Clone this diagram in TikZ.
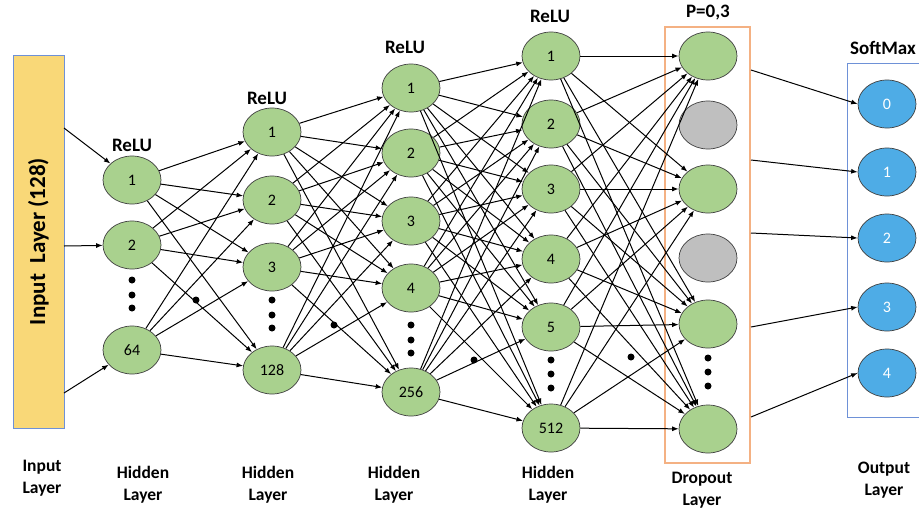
\documentclass[tikz,border=0pt]{standalone}
\usepackage{fontspec}
\setmainfont{Carlito}
\usetikzlibrary{arrows.meta,shapes.geometric}
\definecolor{greennode}{RGB}{169,209,142}
\definecolor{graynode}{RGB}{191,191,191}
\definecolor{bluenode}{RGB}{78,172,230}
\definecolor{yellowin}{RGB}{249,216,120}
\definecolor{orangebox}{RGB}{244,177,131}
\definecolor{blueline}{RGB}{110,145,215}
\tikzset{
    neuron/.style={ellipse, draw=black!75, line width=0.7pt, fill=greennode, minimum width=58pt, minimum height=48pt, inner sep=0pt, font=\fontsize{16}{16}\selectfont},
    dropped/.style={neuron, fill=graynode},
    outneuron/.style={neuron, fill=bluenode, text=white},
    conn/.style={line width=1pt, -{Latex[length=6.5pt,width=5pt]}},
    toplabel/.style={font=\fontsize{19}{19}\selectfont\bfseries},
    layerlabel/.style={font=\fontsize{17.5}{22}\selectfont\bfseries, align=center},
    dotmark/.style={circle, fill=black, inner sep=0pt, minimum size=7pt}
}

\begin{document}
\begin{tikzpicture}[x=1pt, y=-1pt]
    \useasboundingbox (0,0) rectangle (919,512);

    % input layer
    \node[rotate=90, draw=blueline, fill=yellowin, line width=0.8pt, minimum width=373pt, minimum height=51pt,
          font=\fontsize{23}{23}\selectfont\bfseries] (input) at (38.5,241.5) {Input~~Layer (128)};
    \coordinate (in1) at (64,128);
    \coordinate (in2) at (64,246);
    \coordinate (in3) at (64,393);

    % hidden layer 1
    \node[neuron] (a1) at (132,180) {1};
    \node[neuron] (a2) at (132,245) {2};
    \node[neuron] (a3) at (132,350) {64};
    \node[toplabel] at (132,145) {ReLU};

    % hidden layer 2
    \node[neuron] (b1) at (272,132) {1};
    \node[neuron] (b2) at (272,200) {2};
    \node[neuron] (b3) at (272,267) {3};
    \node[neuron] (b4) at (272,370) {128};
    \node[toplabel] at (267,98) {ReLU};

    % hidden layer 3
    \node[neuron] (c1) at (411,88) {1};
    \node[neuron] (c2) at (411,153) {2};
    \node[neuron] (c3) at (411,221) {3};
    \node[neuron] (c4) at (411,288) {4};
    \node[neuron] (c5) at (411,392) {256};
    \node[toplabel] at (405,47) {ReLU};

    % hidden layer 4
    \node[neuron] (d1) at (551,56) {1};
    \node[neuron] (d2) at (551,124) {2};
    \node[neuron] (d3) at (551,189) {3};
    \node[neuron] (d4) at (551,259) {4};
    \node[neuron] (d5) at (551,327) {5};
    \node[neuron] (d6) at (551,428) {512};
    \node[toplabel] at (550,16) {ReLU};

    % dropout layer
    \draw[orangebox, line width=2pt] (665,27) rectangle (750,463);
    \node[neuron] (e1) at (708,56) {};
    \node[dropped] (e2) at (708,125) {};
    \node[neuron] (e3) at (708,189) {};
    \node[dropped] (e4) at (708,258) {};
    \node[neuron] (e5) at (708,324) {};
    \node[neuron] (e6) at (708,429) {};
    \node[toplabel] at (708,13) {P=0,3};
    \coordinate (ex1) at (751,70);
    \coordinate (ex2) at (751,160);
    \coordinate (ex3) at (751,233);
    \coordinate (ex4) at (751,327);
    \coordinate (ex5) at (751,417);

    % output layer
    \draw[blueline, line width=0.9pt] (919,63) -- (847,63) -- (847,417) -- (919,417);
    \node[outneuron] (f1) at (887,104) {0};
    \node[outneuron] (f2) at (887,172) {1};
    \node[outneuron] (f3) at (887,238) {2};
    \node[outneuron] (f4) at (887,307) {3};
    \node[outneuron] (f5) at (887,373) {4};
    \node[toplabel] at (883,48) {SoftMax};

    % vertical dots
    \foreach \x/\ya/\yb/\yc in {132/280/295/308, 272/300/315/328, 411/325/340/353, 551/360/374/388, 708/358/372/386}
        \foreach \y in {\ya,\yb,\yc}
            \node[dotmark] at (\x,\y) {};
    \node[dotmark] at (196,300) {};
    \node[dotmark] at (334,325) {};
    \node[dotmark] at (474,360) {};
    \node[dotmark] at (631,357) {};

    % connections
    \draw[conn] (in1) -- (a1);
    \draw[conn] (in2) -- (a2);
    \draw[conn] (in3) -- (a3);
    \foreach \i in {1,2,3}
        \foreach \j in {1,...,4}
            \draw[conn] (a\i) -- (b\j);
    \foreach \i in {1,...,4}
        \foreach \j in {1,...,5}
            \draw[conn] (b\i) -- (c\j);
    \foreach \i in {1,...,5}
        \foreach \j in {1,...,6}
            \draw[conn] (c\i) -- (d\j);
    \foreach \i in {1,...,6}
        \foreach \j in {1,3,5,6}
            \draw[conn] (d\i) -- (e\j);
    \foreach \k in {1,...,5}
        \draw[conn] (ex\k) -- (f\k.west);

    % bottom labels
    \node[layerlabel] at (42,478) {Input\\Layer};
    \node[layerlabel] at (143,485) {Hidden\\Layer};
    \node[layerlabel] at (268,485) {Hidden\\Layer};
    \node[layerlabel] at (394,485) {Hidden\\Layer};
    \node[layerlabel] at (548,485) {Hidden\\Layer};
    \node[layerlabel] at (702,490) {Dropout\\Layer};
    \node[layerlabel] at (884,480) {Output\\Layer};
\end{tikzpicture}
\end{document}
